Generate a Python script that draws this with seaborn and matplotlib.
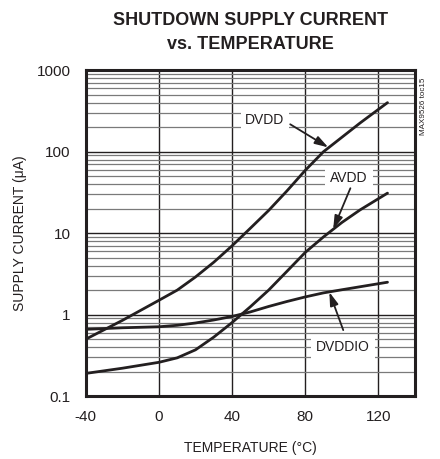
import numpy as np
import pandas as pd
import matplotlib
matplotlib.use("Agg")
import matplotlib.pyplot as plt
import seaborn as sns
from matplotlib.ticker import FixedLocator, NullFormatter, LogLocator

temps = [-40, -20, 0, 10, 20, 30, 40, 50, 60, 70, 80, 90, 100, 110, 125]
dvdd = [0.5, 0.85, 1.5, 2.0, 2.9, 4.4, 7.0, 11.5, 19, 33, 59, 100, 150, 225, 400]
avdd = [0.19, 0.22, 0.26, 0.295, 0.37, 0.53, 0.8, 1.25, 2.0, 3.4, 5.8, 9.0, 13.5, 19.3, 31]
dvddio = [0.66, 0.69, 0.71, 0.74, 0.79, 0.86, 0.95, 1.08, 1.26, 1.45, 1.65, 1.85, 2.02, 2.2, 2.5]
series_names = ["DVDD", "AVDD", "DVDDIO"]
x_ticks = [-40, 0, 40, 80, 120]
y_ticks = [0.1, 1, 10, 100, 1000]
y_tick_labels = ["0.1", "1", "10", "100", "1000"]

df = pd.DataFrame({
    "temp": temps * 3,
    "current": dvdd + avdd + dvddio,
    "series": sum([[n] * len(temps) for n in series_names], []),
})

sns.set_style("white")
plt.rcParams['font.family'] = ['Liberation Sans', 'DejaVu Sans']
ink = "#231f20"

fig = plt.figure(figsize=(4.4, 4.59), dpi=100)
ax = fig.add_axes([0.195, 0.137, 0.748, 0.710])

sns.lineplot(data=df, x="temp", y="current", hue="series", units="series",
             estimator=None, palette=[ink] * 3, linewidth=2.0,
             legend=False, ax=ax, zorder=3)

ax.set_yscale("log")
ax.set_xlim(-40, 140)
ax.set_ylim(0.1, 1000)
ax.xaxis.set_major_locator(FixedLocator(x_ticks))
ax.set_xticklabels([str(t) for t in x_ticks])
ax.yaxis.set_major_locator(FixedLocator(y_ticks))
ax.set_yticklabels(y_tick_labels)
ax.yaxis.set_minor_locator(LogLocator(base=10, subs=np.arange(2, 10)))
ax.yaxis.set_minor_formatter(NullFormatter())
ax.grid(True, which="major", axis="both", color=ink, linewidth=1.0)
ax.grid(True, which="minor", axis="y", color="#7a7a7a", linewidth=0.9)
ax.tick_params(which="both", length=0, labelsize=11, colors=ink)
ax.tick_params(axis="x", pad=10)
ax.tick_params(axis="y", pad=11)
for s in ax.spines.values():
    s.set_linewidth(2.2)
    s.set_color(ink)

ax.set_xlabel("TEMPERATURE (°C)", fontsize=10, color=ink, labelpad=12)
ax.set_ylabel("SUPPLY CURRENT (μA)", fontsize=10, color=ink, labelpad=7)
ax.set_title("SHUTDOWN SUPPLY CURRENT\nvs. TEMPERATURE", fontsize=13,
             fontweight="bold", color=ink, pad=15, linespacing=1.55)

bbox = dict(boxstyle="square,pad=0.35", fc="white", ec="none")
arrow = dict(arrowstyle="-|>,head_length=0.8,head_width=0.25", color=ink,
             lw=1.3, shrinkA=0, shrinkB=0)
ax.text(58, 244, "DVDD", ha="center", va="center", fontsize=10, bbox=bbox, zorder=4, color=ink)
ax.annotate("", xy=(92.6, 113), xytext=(71.8, 217), arrowprops=arrow, zorder=5)
ax.text(104, 47, "AVDD", ha="center", va="center", fontsize=10, bbox=bbox, zorder=4, color=ink)
ax.annotate("", xy=(95.3, 11.2), xytext=(104.7, 35.6), arrowprops=arrow, zorder=5)
ax.text(100.8, 0.4, "DVDDIO", ha="center", va="center", fontsize=10, bbox=bbox, zorder=4, color=ink)
ax.annotate("", xy=(93.2, 1.89), xytext=(100.8, 0.646), arrowprops=arrow, zorder=5)

fig.text(423 / 440, 1 - 78 / 459, "MAX9526 toc15", rotation=90, ha="center", va="top",
         fontsize=5.8, color=ink)

fig.savefig("out.png", dpi=100)
